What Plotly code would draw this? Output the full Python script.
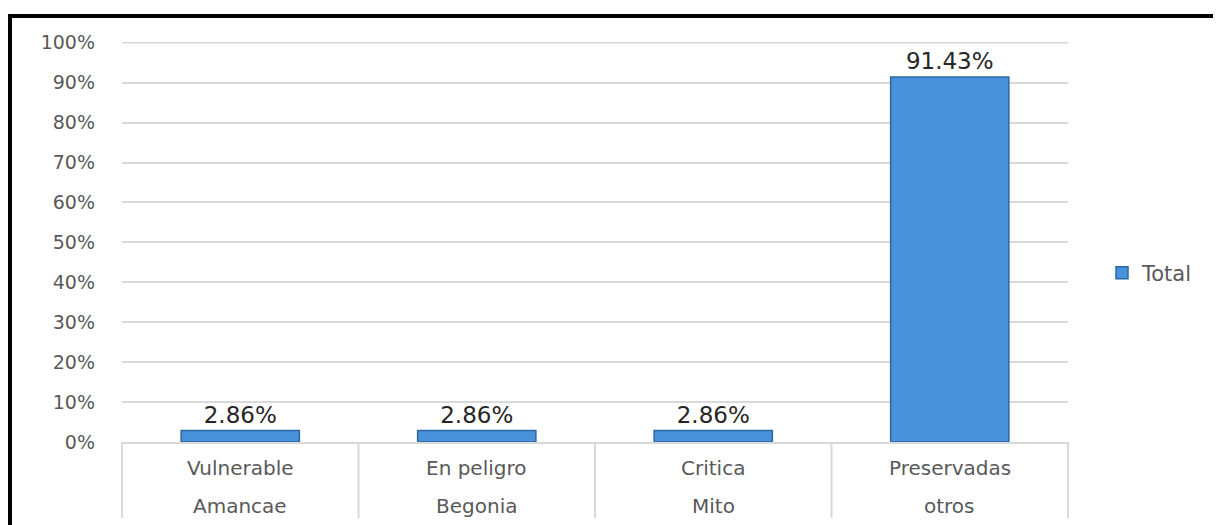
import plotly.graph_objects as go

categories_top = ["Vulnerable", "En peligro", "Critica", "Preservadas"]
categories_bottom = ["Amancae", "Begonia", "Mito", "otros"]
values = [0.0286, 0.0286, 0.0286, 0.9143]
labels = ["2.86%", "2.86%", "2.86%", "91.43%"]
series_name = "Total"
y_ticks = [0, 0.1, 0.2, 0.3, 0.4, 0.5, 0.6, 0.7, 0.8, 0.9, 1.0]
y_ticktext = ["0%", "10%", "20%", "30%", "40%", "50%", "60%", "70%", "80%", "90%", "100%"]

OFF = 8  # page body margin
W, H = 1221 - OFF, 525 - OFF
L, T = 122 - OFF, 42 - OFF
pw, ph = 946, 400
R, B = W - L - pw, H - T - ph

def px_x(x):
    return (x - OFF - L) / pw

def px_y(y):
    return (T + ph - (y - OFF)) / ph

fig = go.Figure()
fig.add_trace(go.Bar(
    x=list(range(len(values))), y=values, name=series_name,
    text=labels, textposition="outside", cliponaxis=False,
    textfont=dict(family="DejaVu Sans", size=23, color="#262626"),
    marker=dict(color="#4792da", line=dict(color="#2d679f", width=1.5)),
    showlegend=True,
))

n = len(values)
shapes = []
for i in range(n + 1):
    xp = i / n
    shapes.append(dict(type="line", xref="paper", yref="paper",
                       x0=xp, x1=xp, y0=0, y1=px_y(518),
                       line=dict(color="#d9d9d9", width=2), layer="below"))
# top gridline (100%)
shapes.append(dict(type="line", xref="paper", yref="y",
                   x0=0, x1=1, y0=y_ticks[-1], y1=y_ticks[-1],
                   line=dict(color="#d9d9d9", width=1.5), layer="below"))
shapes.append(dict(type="rect", xref="paper", yref="paper",
                   x0=px_x(10), x1=px_x(1260),
                   y0=px_y(560), y1=px_y(16),
                   line=dict(color="black", width=4), fillcolor="rgba(0,0,0,0)"))

annotations = []
for i in range(n):
    annotations.append(dict(x=i, y=px_y(468), xref="x", yref="paper",
                            text=categories_top[i], showarrow=False,
                            font=dict(family="DejaVu Sans", size=20, color="#595959"),
                            yanchor="middle"))
    annotations.append(dict(x=i, y=px_y(506), xref="x", yref="paper",
                            text=categories_bottom[i], showarrow=False,
                            font=dict(family="DejaVu Sans", size=20, color="#595959"),
                            yanchor="middle"))

fig.update_layout(
    width=W, height=H,
    margin=dict(l=L, r=R, t=T, b=B),
    paper_bgcolor="white", plot_bgcolor="white",
    bargap=0.5,
    shapes=shapes, annotations=annotations,
    xaxis=dict(range=[-0.5, n - 0.5], showticklabels=False, showgrid=False,
               zeroline=False, showline=True, linecolor="#d9d9d9", linewidth=2,
               ticks=""),
    yaxis=dict(range=[0, 1.002], tickvals=y_ticks, ticktext=y_ticktext,
               showgrid=True, gridcolor="#d9d9d9", gridwidth=1.5,
               zeroline=False, showline=False, ticks="",
               ticklabelstandoff=26,
               tickfont=dict(family="DejaVu Sans", size=19, color="#595959")),
    legend=dict(x=px_x(1102), y=px_y(273), xanchor="left", yanchor="middle",
                font=dict(family="DejaVu Sans", size=21, color="#595959"),
                itemwidth=30, bgcolor="rgba(0,0,0,0)"),
)

fig.write_html("out.html")
